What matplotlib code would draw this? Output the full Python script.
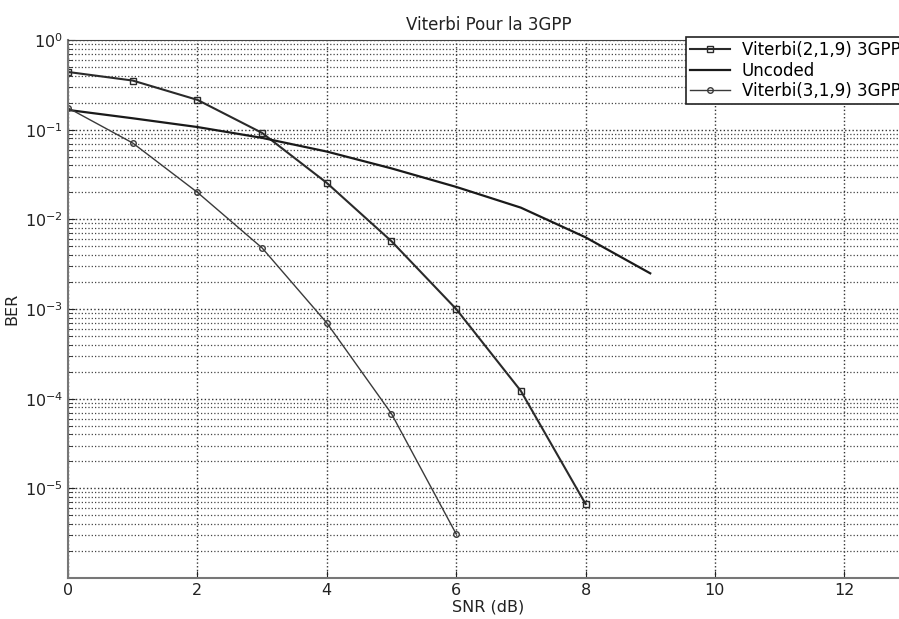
import matplotlib.pyplot as plt
from matplotlib.ticker import LogLocator, NullFormatter, MultipleLocator

# ── Values ───────────────────────────────────────────────────────────────────
snr_v219 = [0, 1, 2, 3, 4, 5, 6, 7, 8]
ber_v219 = [0.44, 0.353, 0.215, 0.092, 0.0255, 0.0057, 1.0e-3, 1.22e-4, 6.7e-6]

snr_unc = [0, 1, 2, 3, 4, 5, 6, 7, 8, 9]
ber_unc = [0.166, 0.134, 0.107, 0.081, 0.057, 0.037, 0.023, 0.0135, 0.0063, 0.0025]

snr_v319 = [0, 1, 2, 3, 4, 5, 6]
ber_v319 = [0.175, 0.071, 0.020, 0.0048, 7.0e-4, 6.8e-5, 3.1e-6]

y_ticks = [1e0, 1e-1, 1e-2, 1e-3, 1e-4, 1e-5]

W, H = 899, 619
fig = plt.figure(figsize=(W / 100, H / 100), dpi=100)
# axes runs to x=13, a bit past the right edge (as in the scan)
ax = fig.add_axes([68 / W, (H - 578) / H, (909 - 68) / W, (578 - 40) / H])

ax.semilogy(snr_v219, ber_v219, "-s", color="#2a2a2a", lw=1.5, ms=5,
            mfc="none", mew=1.0, label="Viterbi(2,1,9) 3GPP")
ax.semilogy(snr_unc, ber_unc, "-", color="#1a1a1a", lw=1.6, label="Uncoded")
ax.semilogy(snr_v319, ber_v319, "-o", color="#3a3a3a", lw=1.0, ms=4,
            mfc="none", mew=1.0, label="Viterbi(3,1,9) 3GPP")

ax.set_xlim(0, 13)
ax.set_ylim(1e-6, 1)
ax.xaxis.set_major_locator(MultipleLocator(2))
ax.set_yticks(y_ticks)
ax.yaxis.set_minor_locator(LogLocator(base=10, subs=range(2, 10), numticks=20))
ax.yaxis.set_minor_formatter(NullFormatter())

ax.grid(True, which="major", axis="both", linestyle=":", color="#333333", lw=1.0)
ax.grid(True, which="minor", axis="y", linestyle=":", color="#444444", lw=0.9)
ax.axhline(1e-6, color="#333333", lw=1.0, ls=":")  # bottom decade line
ax.set_axisbelow(True)

ax.tick_params(which="both", direction="in", labelsize=11.5, colors="#222222")
ax.tick_params(which="major", length=5)
ax.tick_params(which="minor", length=3)
for side in ("left", "bottom"):
    ax.spines[side].set_color("#777777")
    ax.spines[side].set_linewidth(1.5)
ax.spines["top"].set_color("#444444")
ax.spines["right"].set_visible(False)

ax.set_title("Viterbi Pour la 3GPP", fontsize=12, color="#222222", pad=7)
ax.set_xlabel("SNR (dB)", fontsize=11.5, color="#222222", labelpad=1)
ax.set_ylabel("BER", fontsize=11.5, color="#222222", labelpad=4)

leg = ax.legend(loc="upper left", bbox_to_anchor=(686 / W, 1 - 37 / H),
                bbox_transform=fig.transFigure, fontsize=12, fancybox=False,
                framealpha=1, edgecolor="#222222", borderaxespad=0,
                handlelength=2.4, handletextpad=0.7, labelspacing=0.15,
                borderpad=0.25)
leg.get_frame().set_linewidth(1.2)

fig.savefig("out.png", dpi=100, facecolor="white")
